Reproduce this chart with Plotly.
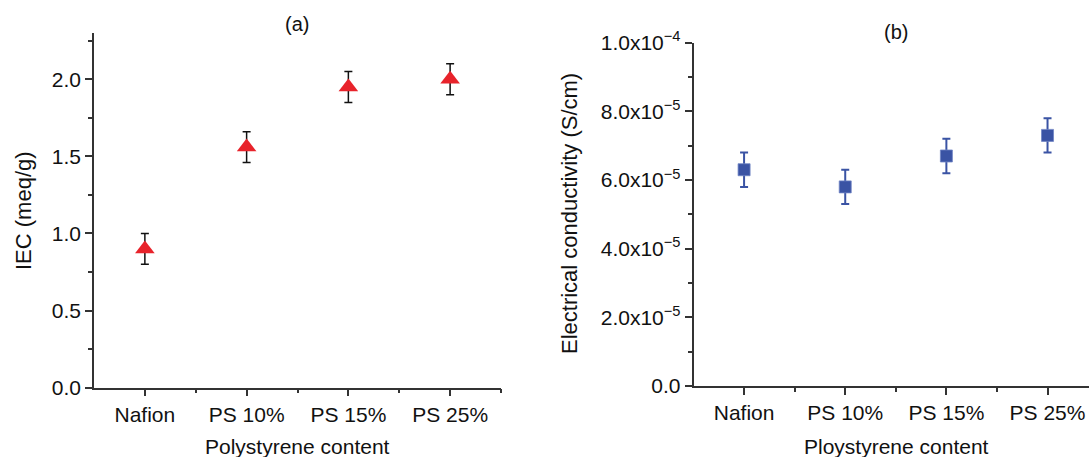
import plotly.graph_objects as go

categories = ["Nafion", "PS 10%", "PS 15%", "PS 25%"]
iec = [0.90, 1.56, 1.95, 2.00]
iec_err = [0.10, 0.10, 0.10, 0.10]
cond = [6.3e-5, 5.8e-5, 6.7e-5, 7.3e-5]
cond_err = [0.5e-5, 0.5e-5, 0.5e-5, 0.5e-5]
iec_ticks = [0.0, 0.5, 1.0, 1.5, 2.0]
iec_ticktext = ["0.0", "0.5", "1.0", "1.5", "2.0"]
cond_ticks = [0.0, 2e-5, 4e-5, 6e-5, 8e-5, 1e-4]
cond_ticktext = ["0.0", "2.0x10<sup>−5</sup>", "4.0x10<sup>−5</sup>", "6.0x10<sup>−5</sup>",
                 "8.0x10<sup>−5</sup>", "1.0x10<sup>−4</sup>"]

W, H = 1089, 457
FONT = "Liberation Sans, Arial, Helvetica, sans-serif"
AX = "#333333"
TXT = "#111111"
RED = "#e8232b"
BLUE = "#3a53a4"
xpos = list(range(len(categories)))

fig = go.Figure()
fig.add_trace(go.Scatter(
    x=xpos, y=iec, mode="markers", xaxis="x", yaxis="y",
    marker=dict(symbol="triangle-up", size=17, color=RED, line=dict(width=0)),
    error_y=dict(type="data", array=iec_err, color=TXT, thickness=1.5, width=4),
    showlegend=False))
fig.add_trace(go.Scatter(
    x=xpos, y=cond, mode="markers", xaxis="x2", yaxis="y2",
    marker=dict(symbol="square", size=12, color=BLUE, line=dict(width=0.8, color="#7084c4")),
    error_y=dict(type="data", array=cond_err, color=BLUE, thickness=2, width=4),
    showlegend=False))

def xax(domain, rng, anchor):
    return dict(domain=domain, range=rng, anchor=anchor, automargin=False,
                showgrid=False, zeroline=False,
                showline=True, linecolor=AX, linewidth=1.5,
                tickmode="array", tickvals=xpos, ticktext=categories,
                ticks="outside", ticklen=7, tickwidth=1.5, tickcolor=AX,
                tickfont=dict(family=FONT, size=21, color=TXT),
                minor=dict(tickmode="array", tickvals=[0.5, 1.5, 2.5, 3.5], ticks="outside",
                           ticklen=4, tickwidth=1.5, tickcolor=AX))

def yax(domain, rng, anchor, vals, text, minor_dt):
    return dict(domain=domain, range=rng, anchor=anchor, automargin=False,
                showgrid=False, zeroline=False, showline=True, linecolor=AX, linewidth=1.5,
                tickmode="array", tickvals=vals, ticktext=text,
                ticks="outside", ticklen=7, tickwidth=1.5, tickcolor=AX,
                tickfont=dict(family=FONT, size=21, color=TXT),
                minor=dict(dtick=minor_dt, tick0=0, ticks="outside", ticklen=4,
                           tickwidth=1.5, tickcolor=AX))

fig.update_layout(
    template="none",
    width=W, height=H, margin=dict(l=0, r=0, t=0, b=0, pad=0, autoexpand=False),
    paper_bgcolor="white", plot_bgcolor="white",
    xaxis=xax([94 / W, 501 / W], [-0.5, 3.5], "y"),
    xaxis2=xax([693.5 / W, 1.0], [-0.5, 3.41], "y2"),
    yaxis=yax([(H - 387.7) / H, (H - 33) / H], [0, 2.3], "x", iec_ticks, iec_ticktext, 0.25),
    yaxis2=yax([(H - 386) / H, (H - 42.7) / H], [0, 1e-4], "x2", cond_ticks, cond_ticktext, 1e-5),
)

def ann(text, x, y, angle=0, size=21):
    fig.add_annotation(text=text, x=x / W, y=1 - y / H, xref="paper", yref="paper",
                       showarrow=False, textangle=angle, xanchor="center", yanchor="middle",
                       font=dict(family=FONT, size=size, color=TXT))

ann("(a)", 297, 24, size=20)
ann("(b)", 896, 32, size=20)
ann("Polystyrene content", 297.5, 446)
ann("Ploystyrene content", 896, 446.5)
ann("IEC (meq/g)", 23, 211, angle=-90, size=22)
ann("Electrical conductivity (S/cm)", 569, 214, angle=-90, size=22)

fig.write_html("out.html")
